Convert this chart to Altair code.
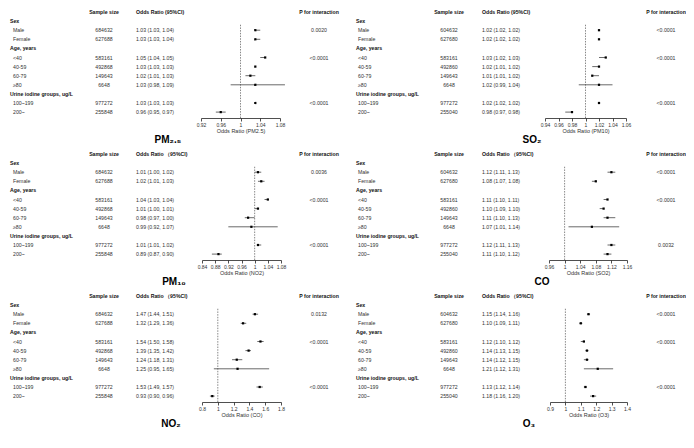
import altair as alt
import pandas as pd

FONT = "Liberation Sans"

row_labels = ["Sex", "Male", "Female", "Age, years", "<40", "40-59", "60-79", "≥80",
              "Urine iodine groups, ug/L", "100~199", "200~"]
heading_labels = ["Sex", "Age, years", "Urine iodine groups, ug/L"]

sample_left = [684632, 627688, 583161, 492868, 149643, 6648, 977272, 255848]
sample_right = [604632, 627680, 583161, 492860, 149643, 6648, 977272, 255040]

# PM2.5
pm25_est = [1.03, 1.03, 1.05, 1.03, 1.02, 1.03, 1.03, 0.96]
pm25_lo = [1.03, 1.03, 1.04, 1.03, 1.01, 0.98, 1.03, 0.95]
pm25_hi = [1.04, 1.04, 1.05, 1.03, 1.03, 1.09, 1.03, 0.97]
pm25_p = ["0.0020", "", "<0.0001", "", "", "", "<0.0001", ""]
pm25_ticks = [0.92, 0.96, 1, 1.04, 1.08]

# SO2
so2_est = [1.02, 1.02, 1.03, 1.02, 1.01, 1.02, 1.02, 0.98]
so2_lo = [1.02, 1.02, 1.02, 1.01, 1.01, 0.99, 1.02, 0.97]
so2_hi = [1.02, 1.02, 1.03, 1.02, 1.02, 1.04, 1.02, 0.98]
so2_p = ["<0.0001", "", "<0.0001", "", "", "", "<0.0001", ""]
so2_ticks = [0.94, 0.96, 0.98, 1, 1.02, 1.04, 1.06]

# PM10
pm10_est = [1.01, 1.02, 1.04, 1.01, 0.98, 0.99, 1.01, 0.89]
pm10_lo = [1.00, 1.01, 1.03, 1.00, 0.97, 0.92, 1.01, 0.87]
pm10_hi = [1.02, 1.03, 1.04, 1.01, 1.00, 1.07, 1.02, 0.90]
pm10_p = ["0.0036", "", "<0.0001", "", "", "", "<0.0001", ""]
pm10_ticks = [0.84, 0.88, 0.92, 0.96, 1, 1.04, 1.08]

# CO
co_est = [1.12, 1.08, 1.11, 1.10, 1.11, 1.07, 1.12, 1.11]
co_lo = [1.11, 1.07, 1.10, 1.09, 1.10, 1.01, 1.11, 1.10]
co_hi = [1.13, 1.08, 1.11, 1.10, 1.13, 1.14, 1.13, 1.12]
co_p = ["<0.0001", "", "<0.0001", "", "", "", "0.0032", ""]
co_ticks = [0.96, 1, 1.04, 1.08, 1.12, 1.16]

# NO2
no2_est = [1.47, 1.32, 1.54, 1.39, 1.24, 1.25, 1.53, 0.93]
no2_lo = [1.44, 1.29, 1.50, 1.35, 1.18, 0.95, 1.49, 0.90]
no2_hi = [1.51, 1.36, 1.58, 1.42, 1.31, 1.65, 1.57, 0.96]
no2_p = ["0.0132", "", "<0.0001", "", "", "", "<0.0001", ""]
no2_ticks = [0.8, 1, 1.2, 1.4, 1.6, 1.8]

# O3
o3_est = [1.15, 1.10, 1.12, 1.14, 1.14, 1.21, 1.13, 1.18]
o3_lo = [1.14, 1.09, 1.10, 1.13, 1.12, 1.12, 1.12, 1.16]
o3_hi = [1.16, 1.11, 1.12, 1.15, 1.15, 1.31, 1.14, 1.20]
o3_p = ["<0.0001", "", "<0.0001", "", "", "", "<0.0001", ""]
o3_ticks = [0.9, 1, 1.1, 1.2, 1.3, 1.4]

PW, PH = 339, 142
ROW_RANGE = [4, 104.1]
LAYOUT = {
    "left": dict(hx=2, sx=5, ssx=96, orx=128, px=311),
    "right": dict(hx=9, sx=11, ssx=102, orx=135, px=319),
}


def panel(title, axis_title, or_header, est, lo, hi, p, samples, ticks, xrange, side, tx):
    L = LAYOUT[side]
    recs = []
    k = 0
    for i, lab in enumerate(row_labels):
        r = {"row": i + 1, "label": lab}
        if lab in heading_labels:
            r["kind"] = "heading"
        else:
            r.update(kind="sub", sample=str(samples[k]),
                     ortext=f"{est[k]:.2f} ({lo[k]:.2f}, {hi[k]:.2f})",
                     est=est[k], lo=lo[k], hi=hi[k], p=p[k])
            k += 1
        recs.append(r)
    df = pd.DataFrame(recs)
    one = pd.DataFrame({"a": [0]})

    yscale = alt.Scale(domain=[0, 11], range=ROW_RANGE, zero=False, nice=False)
    xscale = alt.Scale(domain=[ticks[0], ticks[-1]], range=xrange, zero=False, nice=False)
    xaxis = alt.Axis(values=ticks, format="~g", title=axis_title, grid=False, offset=-32,
                     labelFlush=False, labelOverlap=False, tickSize=3, labelPadding=1,
                     titlePadding=1, labelFontSize=5, titleFontSize=5.5, labelFont=FONT,
                     titleFont=FONT, titleFontWeight="normal", domainColor="#222",
                     tickColor="#222", labelColor="#333", titleColor="#333",
                     domainWidth=0.8, tickWidth=0.8)
    Y = alt.Y("row:Q", scale=yscale, axis=None)

    base = alt.Chart(df)
    subs = base.transform_filter("datum.kind == 'sub'")
    txt = dict(baseline="middle", font=FONT, fontSize=5.2, color="#333")

    layers = [
        base.transform_filter("datum.kind == 'heading'").mark_text(
            align="left", fontWeight="bold", **{**txt, "color": "#111"}
        ).encode(x=alt.value(L["hx"]), y=Y, text="label:N"),
        subs.mark_text(align="left", **txt).encode(x=alt.value(L["sx"]), y=Y, text="label:N"),
        subs.mark_text(align="center", **txt).encode(x=alt.value(L["ssx"]), y=Y, text="sample:N"),
        subs.mark_text(align="left", **txt).encode(x=alt.value(L["orx"]), y=Y, text="ortext:N"),
        subs.transform_filter("datum.p != ''").mark_text(align="center", **txt).encode(
            x=alt.value(L["px"]), y=Y, text="p:N"),
    ]
    hdr = dict(baseline="middle", font=FONT, fontSize=5.2, fontWeight="bold", color="#111")
    ydat = alt.YDatum(0, scale=yscale, axis=None)
    layers += [
        alt.Chart(one).mark_text(align="center", **hdr).encode(
            x=alt.value(L["ssx"]), y=ydat, text=alt.value("Sample size")),
        alt.Chart(one).mark_text(align="left", **hdr).encode(
            x=alt.value(L["orx"]), y=ydat, text=alt.value(or_header)),
        alt.Chart(one).mark_text(align="center", **hdr).encode(
            x=alt.value(L["px"]), y=ydat, text=alt.value("P for interaction")),
        alt.Chart(one).mark_rule(color="#555", strokeWidth=0.7, strokeDash=[1.5, 1.2]).encode(
            x=alt.XDatum(1, scale=xscale, axis=xaxis),
            y=alt.YDatum(1.4, scale=yscale, axis=None),
            y2=alt.Y2Datum(11.65)),
        subs.mark_rule(color="#444", strokeWidth=0.8).encode(
            x=alt.X("lo:Q", scale=xscale, axis=xaxis), x2="hi:Q", y=Y),
        subs.mark_point(shape="square", filled=True, size=5, color="black", opacity=1).encode(
            x=alt.X("est:Q", scale=xscale, axis=xaxis), y=Y),
        alt.Chart(one).mark_text(align="center", baseline="middle", font=FONT, fontSize=10,
                                 fontWeight="bold", color="black").encode(
            x=alt.value(tx), y=alt.value(132), text=alt.value(title)),
    ]
    return alt.layer(*layers).properties(width=PW, height=PH)


p1 = panel("PM₂.₅", "Odds Ratio (PM2.5)", "Odds Ratio (95%CI)", pm25_est, pm25_lo, pm25_hi,
           pm25_p, sample_left, pm25_ticks, [193, 272], "left", 160)
p2 = panel("SO₂", "Odds Ratio (PM10)", "Odds Ratio (95%CI)", so2_est, so2_lo, so2_hi,
           so2_p, sample_right, so2_ticks, [198, 279], "right", 185)
p3 = panel("PM₁₀", "Odds Ratio (NO2)", "Odds Ratio （95%CI)", pm10_est, pm10_lo, pm10_hi,
           pm10_p, sample_left, pm10_ticks, [194, 273], "left", 166)
p4 = panel("CO", "Odds Ratio (SO2)", "Odds Ratio （95%CI)", co_est, co_lo, co_hi,
           co_p, sample_right, co_ticks, [202, 280], "right", 195)
p5 = panel("NO₂", "Odds Ratio (CO)", "Odds Ratio （95%CI)", no2_est, no2_lo, no2_hi,
           no2_p, sample_left, no2_ticks, [194, 273], "left", 163)
p6 = panel("O₃", "Odds Ratio (O3)", "Odds Ratio （95%CI)", o3_est, o3_lo, o3_hi,
           o3_p, sample_right, o3_ticks, [203, 280], "right", 182)

chart = alt.vconcat(
    alt.hconcat(p1, p2, spacing=0),
    alt.hconcat(p3, p4, spacing=0),
    alt.hconcat(p5, p6, spacing=0),
    spacing=0,
).properties(padding=0, background="white").configure_view(stroke=None)

chart.save("out.html", embed_options={"renderer": "svg", "actions": False})
